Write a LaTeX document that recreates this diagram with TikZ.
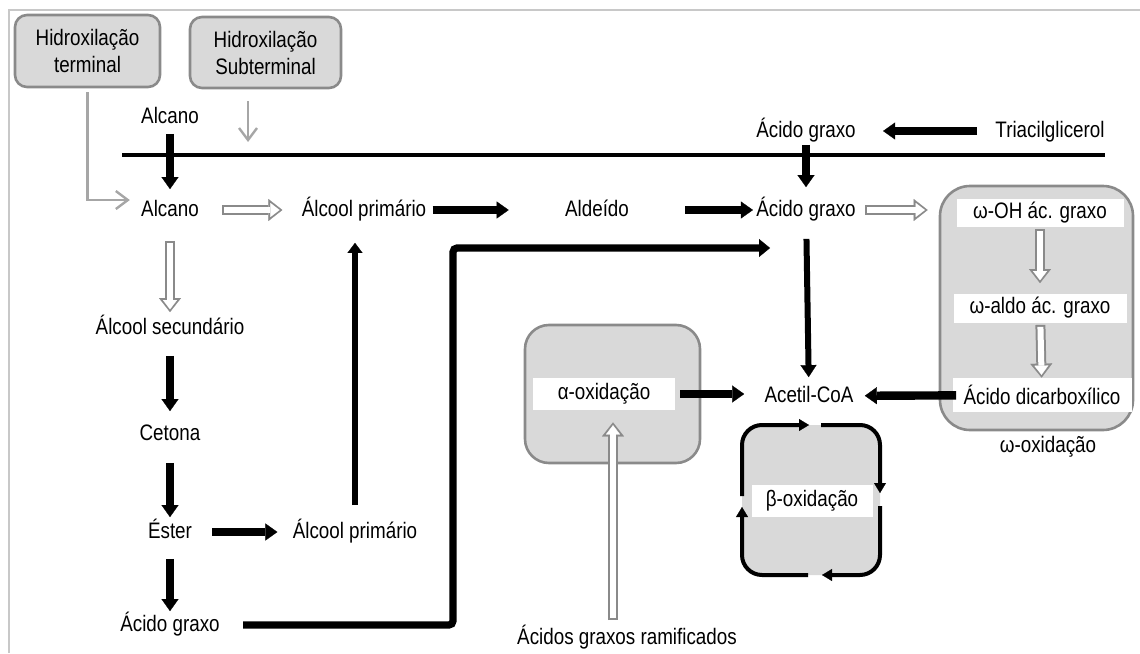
\documentclass[tikz,border=0pt]{standalone}
\usepackage{fontspec}
\setmainfont{Liberation Sans}[FakeStretch=0.84]
\usetikzlibrary{arrows.meta}
\definecolor{boxfill}{HTML}{D9D9D9}
\definecolor{boxline}{HTML}{8A8A8A}
\definecolor{hydgray}{HTML}{A6A6A6}
\definecolor{framegray}{HTML}{C8C8C8}

\begin{document}
\begin{tikzpicture}[x=0.5pt, y=-0.5pt,
  every node/.style={font=\fontsize{11.2}{13}\selectfont},
  txt/.style={inner sep=1.5pt, text height=8.5pt, text depth=2pt},
  strip/.style={fill=white, inner sep=0pt},
  hydbox/.style={draw=boxline, fill=boxfill, line width=1.3pt, rounded corners=6pt,
    align=center, inner sep=1pt, font=\fontsize{11.2}{13.5}\selectfont},
  grpbox/.style={draw=boxline, fill=boxfill, line width=1.3pt, rounded corners=12pt},
  blkarrow/.style={line width=4.2pt, -{Triangle[length=6pt,width=8.5pt,line width=0.1pt]}},
  midarrow/.style={line width=3pt, -{Triangle[length=6pt,width=8pt,line width=0.1pt]}},
  uparrow/.style={line width=2.6pt, -{Triangle[length=5pt,width=7.5pt,line width=0.1pt]}},
  longarrow/.style={line width=3.6pt, -{Triangle[length=5.5pt,width=9pt,line width=0.1pt]}},
  cycarrow/.style={line width=2pt, rounded corners=10pt, -{Triangle[length=5pt,width=6pt,line width=0.1pt]}},
  hydarrow/.style={draw=hydgray, line width=1.2pt, -{Straight Barb[length=6pt,width=9pt]}},
  hollow/.style 2 args={draw=boxline, line width=5pt, shorten <=#1, shorten >=#2,
    -{Triangle[length=7pt,width=11pt,line width=0.1pt]},
    postaction={draw=white, line width=3pt, shorten <=#1+1pt, shorten >=#2+1.4pt,
      -{Triangle[length=4.6pt,width=7pt,line width=0.1pt]}}}]
  \useasboundingbox (0,0) rectangle (1140,653);
  \draw [framegray, line width=1pt] (9,653) |- (1140,10);

  \node (hterm) at (87.5,51) [hydbox, minimum width=72.5pt, minimum height=36pt] {Hidroxilação\\terminal};
  \node (hsub) at (265.5,52.5) [hydbox, minimum width=75.5pt, minimum height=35.5pt] {Hidroxilação\\Subterminal};
  \node (omega) at (1036.5,308) [grpbox, rounded corners=15pt, minimum width=96.5pt, minimum height=122pt] {};
  \node (alphabox) at (612.5,394) [grpbox, minimum width=87.5pt, minimum height=69pt] {};
  \node (betabox) at (811,500) [fill=boxfill, rounded corners=10pt, minimum width=69pt, minimum height=75pt] {};

  \node (wOH) at (1040,213) [strip, minimum width=83.5pt, minimum height=14pt] {ω-OH ác. graxo};
  \node (wald) at (1040,308) [strip, minimum width=86.5pt, minimum height=14.5pt] {ω-aldo ác. graxo};
  \node (dicarb) at (1042,395) [strip, minimum width=89.5pt, minimum height=17pt] {Ácido dicarboxílico};
  \node (alpha) at (604,394) [strip, minimum width=71pt, minimum height=16pt] {α-oxidação};
  \node (beta) at (812,501) [strip, minimum width=60.5pt, minimum height=16pt] {β-oxidação};
  \node (womega) at (1048,446) [txt] {ω-oxidação};

  \node (alcT) at (170,117) [txt] {Alcano};
  \node (acidT) at (806,131) [txt] {Ácido graxo};
  \node (triac) at (1050,131) [txt] {Triacilglicerol};
  \node (alcM) at (170,210) [txt] {Alcano};
  \node (alcP) at (364,210) [txt] {Álcool primário};
  \node (ald) at (597,210) [txt] {Aldeído};
  \node (acidM) at (806,210) [txt] {Ácido graxo};
  \node (alcS) at (170,328) [txt] {Álcool secundário};
  \node (ceto) at (170,434) [txt] {Cetona};
  \node (ester) at (170,532) [txt] {Éster};
  \node (alcP2) at (355,532) [txt] {Álcool primário};
  \node (acidB) at (170,625) [txt] {Ácido graxo};
  \node (acetil) at (809,396) [txt] {Acetil-CoA};
  \node (ramif) at (627,638) [txt] {Ácidos graxos ramificados};

  \coordinate (subend) at (248,142);
  \coordinate (lturn) at (453,248);
  \coordinate (lend) at (770,248);

  \draw [line width=1.6pt] (122,155) -- (1105,155);
  \draw [hydarrow, shorten <=2pt, shorten >=4pt] (hterm) |- ([yshift=5pt]alcM.west);
  \draw [hydarrow, shorten <=6pt] (hsub.south -| subend) -- (subend);

  \draw [blkarrow, shorten <=1.5pt, shorten >=3.5pt] (alcT) -- (alcM);
  \draw [blkarrow, shorten <=7.5pt, shorten >=12pt] (triac) -- (acidT);
  \draw [blkarrow, shorten >=4.5pt] (acidT) -- (acidM);
  \draw [hollow={10pt}{8pt}] (alcM) -- (alcP);
  \draw [blkarrow, shorten <=1.5pt, shorten >=26.5pt] (alcP) -- (ald);
  \draw [blkarrow, shorten <=26.5pt] (ald) -- (acidM);
  \draw [hollow={3pt}{5.5pt}] (acidM) -- (acidM -| omega.west);
  \draw [hollow={1pt}{5pt}] (wOH) -- (wald);
  \draw [hollow={1pt}{0pt}] (wald) -- (dicarb);
  \draw [blkarrow, shorten <=-2pt, shorten >=4pt] (dicarb) -- (acetil);
  \draw [midarrow, shorten <=7.5pt, shorten >=2.5pt] (acidM) -- (acetil);
  \draw [blkarrow, shorten <=2.5pt, shorten >=8.5pt] (alpha) -- (alpha -| acetil.west);
  \draw [hollow={2pt}{6pt}] ([xshift=-7pt]ramif.north) -- ([xshift=4.5pt]alpha.south);

  \draw [hollow={8.5pt}{1pt}] (alcM) -- (alcS);
  \draw [blkarrow, shorten <=7pt, shorten >=4.5pt] (alcS) -- (ceto);
  \draw [blkarrow, shorten <=7.5pt, shorten >=0.5pt] (ceto) -- (ester);
  \draw [blkarrow, shorten <=8.5pt, shorten >=6pt] (ester) -- (alcP2);
  \draw [blkarrow, shorten <=6.5pt] (ester) -- (acidB);
  \draw [uparrow, shorten <=6.5pt, shorten >=9.5pt] (alcP2) -- (alcP2 |- alcP.south);
  \draw [longarrow, shorten <=10pt, rounded corners=2pt] (acidB) -| (lturn) -- (lend);

  \draw [cycarrow] (742,496) |- (809,425);
  \draw [cycarrow] (821,425) -| (880,493);
  \draw [cycarrow] (880,506) |- (822,575);
  \draw [cycarrow] (808,575) -| (742,507);
\end{tikzpicture}
\end{document}
